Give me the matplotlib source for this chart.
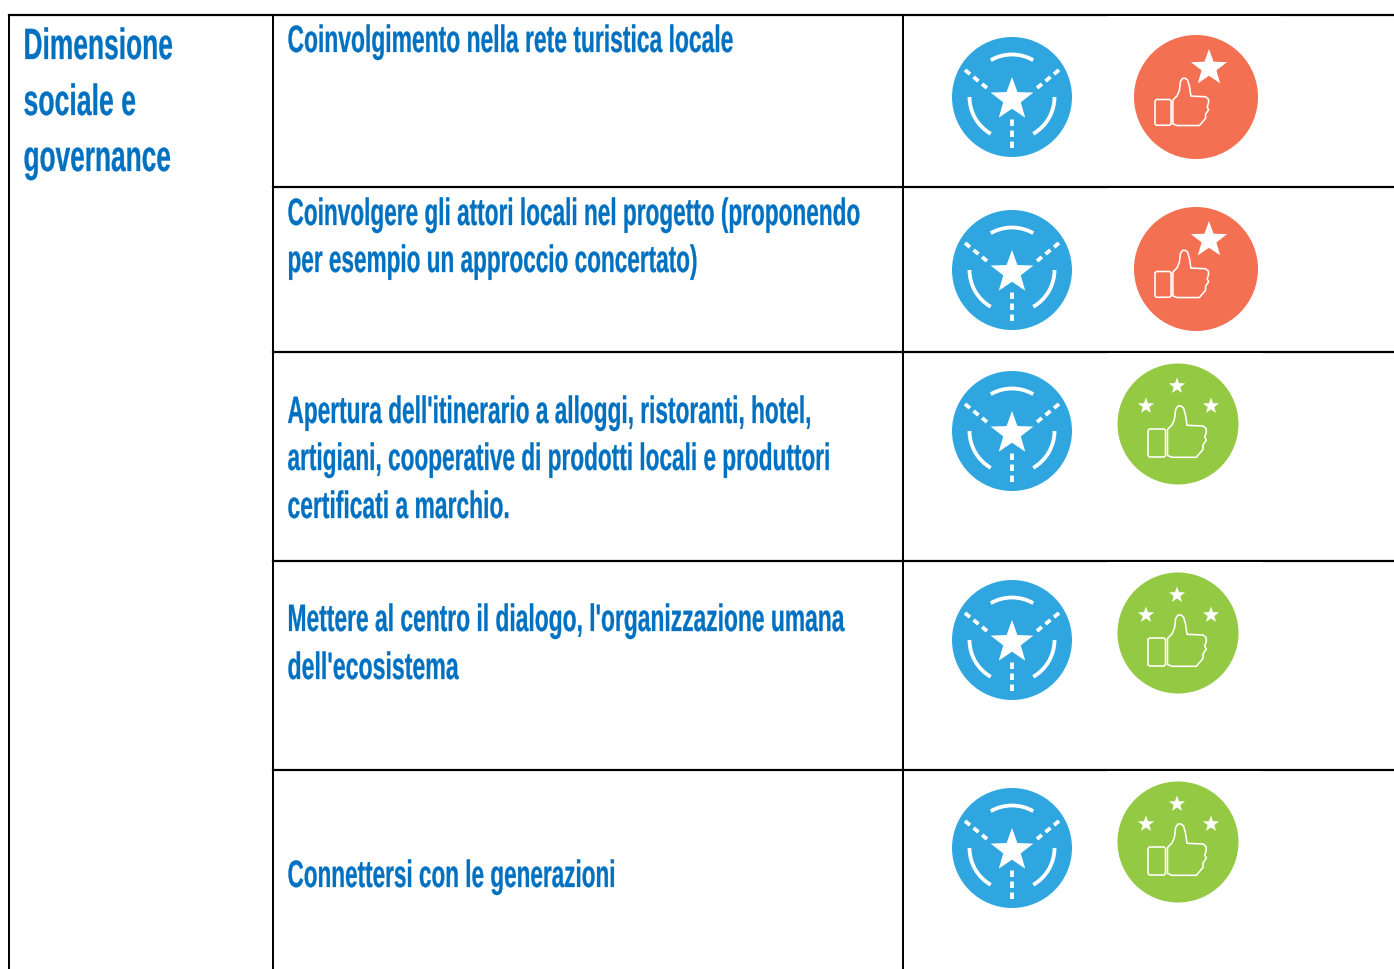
import numpy as np
import matplotlib
matplotlib.use('Agg')
import matplotlib.pyplot as plt
from matplotlib.patches import Circle, Polygon, Arc
from matplotlib.patheffects import AbstractPathEffect
from matplotlib.transforms import Affine2D

plt.rcParams['font.family'] = ['Liberation Sans', 'DejaVu Sans']

heading = ['Dimensione', 'sociale e', 'governance']
criteria = [
    ['Coinvolgimento nella rete turistica locale'],
    ['Coinvolgere gli attori locali nel progetto (proponendo', 'per esempio un approccio concertato)'],
    ["Apertura dell'itinerario a alloggi, ristoranti, hotel,", 'artigiani, cooperative di prodotti locali e produttori',
     'certificati a marchio.'],
    ["Mettere al centro il dialogo, l'organizzazione umana", "dell'ecosistema"],
    ['Connettersi con le generazioni'],
]
ratings = ['coral', 'coral', 'green', 'green', 'green']

row_lines = [15, 187, 352, 561, 770]
notch_end = [1280, 1280, 1262, 1262, 1262]
col_lines = [9, 273, 903]
text_baselines = [[52], [225, 272], [423, 470, 518], [631, 679], [887]]
text_right = [[734], [861, 698], [812, 831, 510], [845, 459], [616]]
heading_baselines = [59, 115, 171]
heading_right = [173, 136, 171]
blue_y = [97, 270, 431, 640, 848]
rating_y = [97, 269, 424, 633, 842]

BLUE = '#2FA6E0'
CORAL = '#F37052'
GREEN = '#93C943'
TEXT = '#0070C0'
PX = 0.72  # one pixel in points at dpi 100


class Squeeze(AbstractPathEffect):
    # no condensed font here, so narrow the glyphs around the left edge and thicken them a little
    def __init__(self, x0, factor, stroke):
        super().__init__()
        self.x0 = x0
        self.factor = factor
        self.stroke = stroke

    def draw_path(self, renderer, gc, tpath, affine, rgbFace=None):
        squeezed = affine + Affine2D().translate(-self.x0, 0).scale(self.factor, 1).translate(self.x0, 0)
        gc0 = renderer.new_gc()
        gc0.copy_properties(gc)
        gc0.set_foreground(rgbFace)
        gc0.set_linewidth(self.stroke)
        renderer.draw_path(gc0, tpath, squeezed, rgbFace)
        gc0.restore()


def fitted_text(ax, x, y, right, line, size):
    t = ax.text(x, y, line, fontsize=size, color=TEXT, va='baseline', ha='left', fontweight='bold')
    width = t.get_window_extent(fig.canvas.get_renderer()).width
    t.set_path_effects([Squeeze(x, (right - x) / width, 0.2)])
    return t


def star(ax, x, y, r):
    a = np.pi / 2 + np.arange(10) * np.pi / 5
    rad = np.where(np.arange(10) % 2 == 0, r, r * 0.41)
    pts = np.column_stack([x + rad * np.cos(a), y - rad * np.sin(a)])
    ax.add_patch(Polygon(pts, closed=True, fc='white', ec='none', zorder=4))


def route_icon(ax, x, y):
    ax.add_patch(Circle((x, y), 60, fc=BLUE, ec='none', zorder=2))
    star(ax, x, y + 2.5, 22.5)
    for t1, t2 in [(240, 300), (120, 180), (0, 60)]:
        # y axis is inverted so angles run clockwise on screen
        ax.add_patch(Arc((x, y), 85, 85, theta1=t1, theta2=t2, color='white', lw=3.8 * PX, zorder=3))
    spokes = [((-47, -27), (-25, -9)), ((47, -27), (25, -9)), ((0, 51), (0, 22))]
    for (x0, y0), (x1, y1) in spokes:
        ax.plot([x + x0, x + x1], [y + y0, y + y1], color='white', lw=3.8 * PX, zorder=3,
                dashes=(1.7, 1.2), dash_capstyle='butt')


def thumb(ax, x, y, s):
    # x, y = top left of the sleeve box, s = scale
    box = np.array([[1.5, 0], [16, 0], [17.5, 1.5], [17.5, 26.5], [16, 28], [1.5, 28], [0, 26.5], [0, 1.5]])
    hand = np.array([[19.5, 0.5], [24, -4], [26.5, -10], [27.7, -19.7], [30, -23], [33, -23], [35.5, -21], [37.5, -14],
                     [39, -3.7], [55, -3], [58, -0.5], [58.3, 3], [56.7, 8.3], [58.3, 11], [55, 16], [55, 20.3],
                     [51.7, 24.3], [48.3, 28.3], [24, 28.3], [19.5, 26.5]])
    for shape in (box, hand):
        ax.add_patch(Polygon(np.column_stack([x + s * shape[:, 0], y + s * shape[:, 1]]), closed=True, fc='none',
                             ec='white', lw=1.6 * PX, zorder=3, joinstyle='round'))


def coral_icon(ax, x, y):
    ax.add_patch(Circle((x, y), 62, fc=CORAL, ec='none', zorder=2))
    star(ax, x + 13, y - 29, 19)
    thumb(ax, x - 41, y + 2.5, 0.92)


def green_icon(ax, x, y):
    ax.add_patch(Circle((x, y), 60.5, fc=GREEN, ec='none', zorder=2))
    star(ax, x - 1, y - 38, 8.5)
    star(ax, x - 32, y - 18, 8.5)
    star(ax, x + 33, y - 18, 8.5)
    thumb(ax, x - 30, y + 5, 1.0)


fig = plt.figure(figsize=(13.94, 9.69), dpi=100)
ax = fig.add_axes([0, 0, 1, 1])
ax.set_xlim(0, 1394)
ax.set_ylim(969, 0)
ax.axis('off')

for yy, end in zip(row_lines, notch_end):
    ax.plot([col_lines[0] if yy == row_lines[0] else col_lines[1], 1394], [yy, yy], color='black', lw=2.2 * PX,
            solid_capstyle='projecting', zorder=1)
    # the rule is thinner over part of the last column
    ax.plot([1107, end], [yy + 1, yy + 1], color='white', lw=1 * PX, solid_capstyle='butt', zorder=1.5)
for xx in col_lines:
    ax.plot([xx, xx], [row_lines[0], 969], color='black', lw=2 * PX, solid_capstyle='projecting', zorder=1)

for line, yy, right in zip(heading, heading_baselines, heading_right):
    fitted_text(ax, 23.5, yy, right, line, 31.5)

for lines, ys, rights in zip(criteria, text_baselines, text_right):
    for line, yy, right in zip(lines, ys, rights):
        fitted_text(ax, 287.5, yy, right, line, 27.5)

for yb, yr, kind in zip(blue_y, rating_y, ratings):
    route_icon(ax, 1012, yb)
    if kind == 'coral':
        coral_icon(ax, 1196, yr)
    else:
        green_icon(ax, 1178, yr)

fig.savefig('out.png', dpi=100)
